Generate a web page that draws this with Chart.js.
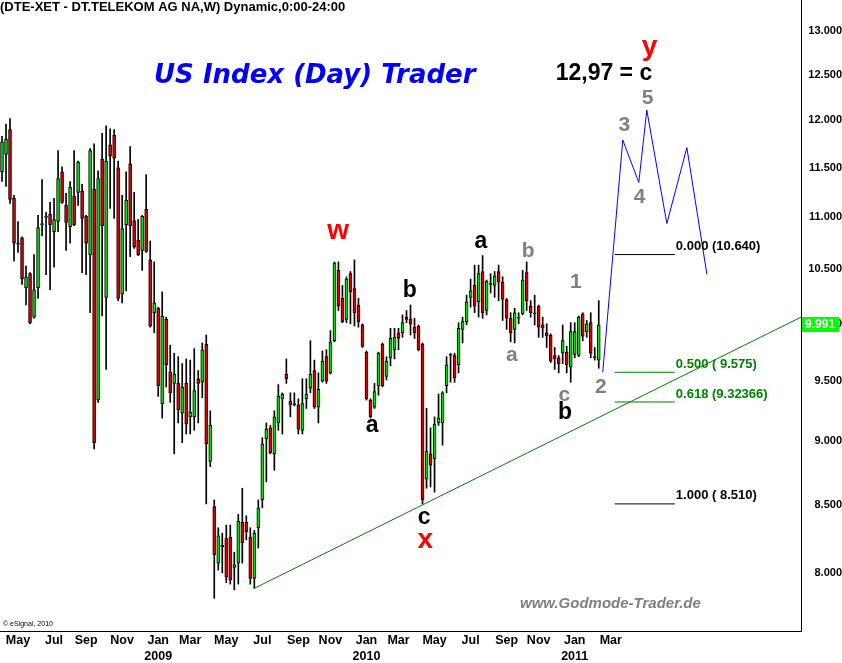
<!DOCTYPE html>
<html>
<head>
<meta charset="utf-8">
<script src="https://cdn.jsdelivr.net/npm/chart.js@4.4.1/dist/chart.umd.min.js"></script>
<style>
html,body{margin:0;padding:0;background:#fff;}
#wrap{width:842px;height:663px;position:relative;}
canvas{display:block;}
</style>
</head>
<body>
<div id="wrap"><canvas id="c" width="842" height="663"></canvas></div>
<script>
// ---------- weekly OHLC (DTE-XET), week index 0 = early April 2008 ----------
const opens = [11.46,11.64,11.90,11.19,10.75,10.80,10.33,10.46,10.06,10.33,
10.93,11.00,11.03,10.86,10.96,11.46,11.12,10.91,11.21,11.25,
11.26,11.01,10.64,11.28,9.34,11.59,10.24,11.74,11.84,11.50,
10.27,10.93,11.54,10.97,10.78,10.68,11.08,10.59,10.10,10.14,
9.31,10.04,9.58,9.48,9.48,9.23,9.48,9.20,9.20,9.52,
9.49,9.82,8.84,8.49,8.07,8.19,8.25,8.26,8.04,8.07,
8.37,8.37,8.26,7.96,8.33,8.54,9.02,9.11,8.90,9.15,
9.35,9.56,9.33,9.30,9.30,9.09,9.35,9.44,9.59,9.28,
9.50,9.71,9.57,9.85,10.49,10.23,10.04,10.46,10.32,10.17,
9.99,9.75,9.34,9.28,9.46,9.82,9.54,9.70,9.77,9.92,
9.92,10.06,10.04,9.97,9.98,9.82,8.70,8.90,8.86,9.15,
9.15,9.46,9.72,9.72,9.64,9.95,10.02,10.24,10.35,10.20,
10.48,10.12,10.36,10.35,10.48,10.38,10.22,10.05,9.95,10.05,
10.09,10.47,10.16,10.09,10.16,9.99,9.92,9.90,9.72,9.70,
9.74,9.75,9.62,9.73,9.72,10.09,9.93,10.01,9.70,9.68];
const highs = [11.83,11.96,12.02,11.22,10.96,10.81,10.53,10.47,10.64,11.02,
11.38,11.05,11.15,11.19,11.68,11.51,11.24,11.36,11.68,11.57,
11.33,11.02,11.70,11.75,11.47,11.86,11.94,11.91,11.90,11.57,
11.22,11.46,11.72,11.25,10.98,11.02,11.43,10.77,10.57,10.15,
10.29,10.06,9.81,9.74,9.71,9.65,9.69,9.68,9.78,9.59,
9.83,9.90,9.25,8.54,8.33,8.29,8.35,8.35,8.15,8.43,
8.63,8.42,8.33,8.31,8.54,9.03,9.15,9.13,9.25,9.47,
9.40,9.69,9.40,9.40,9.35,9.52,9.52,9.85,9.68,9.57,
9.76,9.77,9.94,10.57,10.57,10.35,10.43,10.48,10.59,10.23,
10.00,9.76,9.35,9.48,9.75,9.83,9.71,9.96,9.96,9.96,
10.08,10.12,10.17,10.05,9.99,9.83,9.27,9.11,9.20,9.39,
9.41,9.71,9.74,9.74,10.01,10.06,10.26,10.41,10.54,10.54,
10.63,10.40,10.46,10.48,10.54,10.43,10.23,10.10,10.14,10.10,
10.49,10.57,10.21,10.26,10.17,10.06,10.00,9.91,9.79,9.72,
9.99,9.80,10.01,10.01,10.07,10.10,10.03,10.10,9.79,10.21];
const lows = [11.36,11.31,11.14,10.58,10.66,10.36,10.17,10.00,10.05,10.23,
10.82,10.45,10.31,10.52,10.86,11.14,10.68,10.75,10.92,11.12,
10.47,10.45,10.10,8.94,9.32,10.07,9.60,11.09,10.99,10.21,
10.19,10.30,10.62,10.70,10.63,10.49,10.66,9.97,9.92,9.37,
9.19,9.45,9.32,8.90,9.15,8.99,9.06,9.06,9.09,9.15,
9.36,8.51,8.80,7.82,8.02,8.00,7.93,7.92,7.88,7.92,
8.07,8.24,7.92,7.89,8.18,8.48,8.68,8.90,8.77,9.09,
9.06,9.48,9.20,9.29,9.06,9.06,9.27,9.40,9.27,9.15,
9.49,9.48,9.56,9.84,10.12,10.01,10.01,10.00,9.98,9.97,
9.79,9.34,9.19,9.27,9.38,9.45,9.51,9.63,9.69,9.77,
9.88,10.01,9.90,9.87,9.76,8.51,8.63,8.64,8.60,9.13,
8.97,9.40,9.49,9.49,9.57,9.83,9.99,10.15,10.10,10.06,
10.05,10.08,10.28,10.24,10.21,10.03,9.95,9.84,9.83,10.00,
10.08,10.12,10.06,9.99,9.88,9.88,9.79,9.66,9.60,9.57,
9.65,9.57,9.49,9.70,9.71,9.85,9.88,9.70,9.68,9.61];
const closes = [11.77,11.80,11.18,10.75,10.74,10.41,10.43,10.01,10.31,10.90,
10.94,11.01,10.93,10.98,11.39,11.15,10.95,11.30,10.93,11.56,
10.99,10.75,11.68,8.99,11.39,10.92,11.57,11.62,11.60,10.23,
10.89,11.17,10.92,10.71,10.64,11.01,10.67,9.98,10.19,9.46,
10.07,9.64,9.40,9.56,9.26,9.45,9.14,9.24,9.42,9.48,
9.77,8.98,9.13,8.13,8.27,8.20,7.97,7.95,8.06,8.38,
8.22,8.30,7.96,8.29,8.48,8.98,9.10,8.91,9.20,9.37,
9.39,9.52,9.30,9.31,9.10,9.31,9.39,9.56,9.28,9.43,
9.67,9.50,9.84,10.56,10.16,10.02,10.41,10.29,10.10,10.02,
9.80,9.35,9.20,9.41,9.74,9.46,9.67,9.87,9.88,9.87,
10.01,10.04,10.00,9.92,9.77,8.54,8.92,8.81,9.14,9.19,
9.40,9.64,9.73,9.53,9.96,10.02,10.20,10.30,10.16,10.46,
10.10,10.39,10.37,10.44,10.38,10.22,10.05,9.92,10.10,10.06,
10.40,10.21,10.10,10.10,9.97,9.96,9.89,9.67,9.69,9.65,
9.85,9.64,9.93,9.93,10.06,9.89,10.00,9.74,9.71,9.991];

// ---------- axis ticks ----------
const yTicks = [8.0,8.5,9.0,9.5,10.0,10.5,11.0,11.5,12.0,12.5,13.0];
const monthIdx = [4,13,21,30,39,47,56,65,74,82,91,99,108,117,126,134,143,152];
const monthLabels = ['May','Jul','Sep','Nov','Jan','Mar','May','Jul','Sep','Nov','Jan','Mar','May','Jul','Sep','Nov','Jan','Mar'];
const yearIdx = [39,91,143];
const yearLabels = ['2009','2010','2011'];

// ---------- drawn studies ----------
const trendIdx = [63,199.5];
const trendPrice = [7.89,10.06];
const projIdx = [150,155,159,161,166,171,176];
const projPrice = [9.575,11.79,11.35,12.11,10.94,11.71,10.455];
const fibLevels = [10.640,9.575,9.32366,8.510];
const fibLabels = ['0.000 (10.640)','0.500 ( 9.575)','0.618 (9.32366)','1.000 ( 8.510)'];
const fibRange = [153,168];

// ---------- wave annotations (week index, price) ----------
const waveText  = ['w','x','y','12,97 = c','5','3','4','1','2','b','a','c','a','b','a','c','b'];
const waveKind  = ['red','red','red','note','gray','gray','gray','gray','gray','gray','gray','gray','black','black','black','black','black'];
const waveIdx   = [83.9,105.7,161.7,150.3,161.2,155.4,159.2,143.3,149.5,131.4,127.3,140.4,119.6,101.8,92.4,105.4,140.6];
const wavePrice = [10.866,8.232,12.77,12.517,12.25,11.965,11.21,10.39,9.457,10.691,9.72,9.38,10.769,10.33,9.131,8.406,9.26];

const FONT = '"Liberation Sans", Arial, Helvetica, sans-serif';
const GREEN = '#00e000', RED = '#e00000';

const idx = opens.map((_, i) => i);
const wickData = idx.map(i => ({x: i, y: [lows[i], highs[i]]}));
const bodyData = idx.map(i => ({x: i, y: [opens[i], closes[i]]}));
const bodyColors = idx.map(i => closes[i] >= opens[i] ? GREEN : RED);

const lineDs = (xs, ys, color, order) => ({
  type: 'line',
  data: xs.map((v, k) => ({x: v, y: ys[k]})),
  borderColor: color, borderWidth: 1, pointRadius: 0, fill: false, tension: 0, order: order
});

const fibColors = ['#000000', '#008000', '#008000', '#000000'];
const datasets = [
  {type: 'bar', data: wickData, backgroundColor: '#000', borderWidth: 0, barThickness: 1, grouped: false, order: 5},
  {type: 'bar', data: bodyData, backgroundColor: bodyColors, borderColor: '#000', borderWidth: 1, borderSkipped: false, barThickness: 3, grouped: false, order: 4},
  lineDs(trendIdx, trendPrice, '#008000', 1),
  lineDs(projIdx, projPrice, '#0000ff', 0)
];
fibLevels.forEach((lv, k) => datasets.push(lineDs(fibRange, [lv, lv], fibColors[k], 2)));

const noPad = s => { s.paddingTop = 0; s.paddingBottom = 0; s.paddingLeft = 0; s.paddingRight = 0; };

const annot = {
  id: 'annot',
  afterDraw(chart) {
    const {ctx} = chart;
    const xs = chart.scales.x, ys = chart.scales.y;
    ctx.save();
    // header
    ctx.textBaseline = 'middle';
    ctx.textAlign = 'left';
    ctx.fillStyle = '#000';
    ctx.font = 'bold 13px ' + FONT;
    ctx.fillText('(DTE-XET - DT.TELEKOM AG NA,W) Dynamic,0:00-24:00', 0, 7);
    ctx.fillStyle = '#0000ff';
    ctx.font = 'italic bold 26px "DejaVu Sans", Verdana, sans-serif';
    ctx.fillText('US Index (Day) Trader', 154, 76);
    ctx.fillStyle = '#7f7f7f';
    ctx.font = 'italic bold 15px ' + FONT;
    ctx.fillText('www.Godmode-Trader.de', 520, 604);
    ctx.fillStyle = '#000';
    ctx.font = '7px ' + FONT;
    ctx.fillText('\u00a9 eSignal, 2010', 3, 624);

    // fib labels
    ctx.font = 'bold 13px ' + FONT;
    fibLevels.forEach((lv, k) => {
      ctx.fillStyle = fibColors[k];
      ctx.fillText(fibLabels[k], xs.getPixelForValue(fibRange[1]) + 1, ys.getPixelForValue(lv) - 8);
    });

    // wave labels, centred on their glyph box
    const styles = {
      red:   {font: 'bold 28px ' + FONT, color: '#ff0000'},
      black: {font: 'bold 23px ' + FONT, color: '#000000'},
      gray:  {font: 'bold 21px ' + FONT, color: '#808080'},
      note:  {font: 'bold 23px ' + FONT, color: '#000000'}
    };
    ctx.textAlign = 'center';
    ctx.textBaseline = 'alphabetic';
    waveText.forEach((t, k) => {
      const st = styles[waveKind[k]];
      ctx.font = st.font;
      ctx.fillStyle = st.color;
      const m = ctx.measureText(t);
      const cx = xs.getPixelForValue(waveIdx[k]);
      const cy = ys.getPixelForValue(wavePrice[k]);
      ctx.fillText(t, cx, cy + (m.actualBoundingBoxAscent - m.actualBoundingBoxDescent) / 2);
    });

    // last price box
    const last = closes[closes.length - 1];
    const py = ys.getPixelForValue(last);
    ctx.fillStyle = '#00ff00';
    ctx.fillRect(xs.right + 1, Math.round(py) - 8, 37, 15);
    ctx.fillStyle = '#ffffff';
    ctx.textAlign = 'left';
    ctx.textBaseline = 'middle';
    ctx.font = 'bold 12px ' + FONT;
    ctx.fillText(last.toFixed(3), xs.right + 4, Math.round(py));
    ctx.restore();
  }
};

new Chart(document.getElementById('c'), {
  type: 'bar',
  data: {datasets},
  plugins: [annot],
  options: {
    responsive: false,
    animation: false,
    layout: {padding: 0},
    plugins: {legend: {display: false}, tooltip: {enabled: false}, title: {display: false}},
    scales: {
      x: {
        type: 'linear', min: -0.5, max: 199.5, offset: false,
        grid: {display: false, drawTicks: false},
        border: {display: true, color: '#000', width: 1},
        afterBuildTicks: s => { s.ticks = monthIdx.map(v => ({value: v})); },
        afterFit: s => { s.height = 32; noPad(s); },
        ticks: {
          autoSkip: false, maxRotation: 0, minRotation: 0, padding: 2, color: '#000',
          font: {family: FONT, size: 12.5, weight: 'bold', lineHeight: 1.25},
          callback: v => {
            const k = monthIdx.indexOf(v);
            if (k < 0) return '';
            const yk = yearIdx.indexOf(v);
            return yk >= 0 ? [monthLabels[k], yearLabels[yk]] : monthLabels[k];
          }
        }
      },
      y: {
        type: 'logarithmic', position: 'right', min: 7.594, max: 13.366, beginAtZero: false,
        grid: {display: false, drawTicks: false},
        border: {display: true, color: '#000', width: 1},
        afterBuildTicks: s => { s.ticks = yTicks.map(v => ({value: v})); },
        afterFit: s => { s.width = 41; noPad(s); },
        ticks: {
          crossAlign: 'far', padding: 5, color: '#000',
          font: {family: FONT, size: 11, weight: 'bold'},
          callback: v => Number(v).toFixed(3)
        }
      }
    }
  }
});
</script>
</body>
</html>
